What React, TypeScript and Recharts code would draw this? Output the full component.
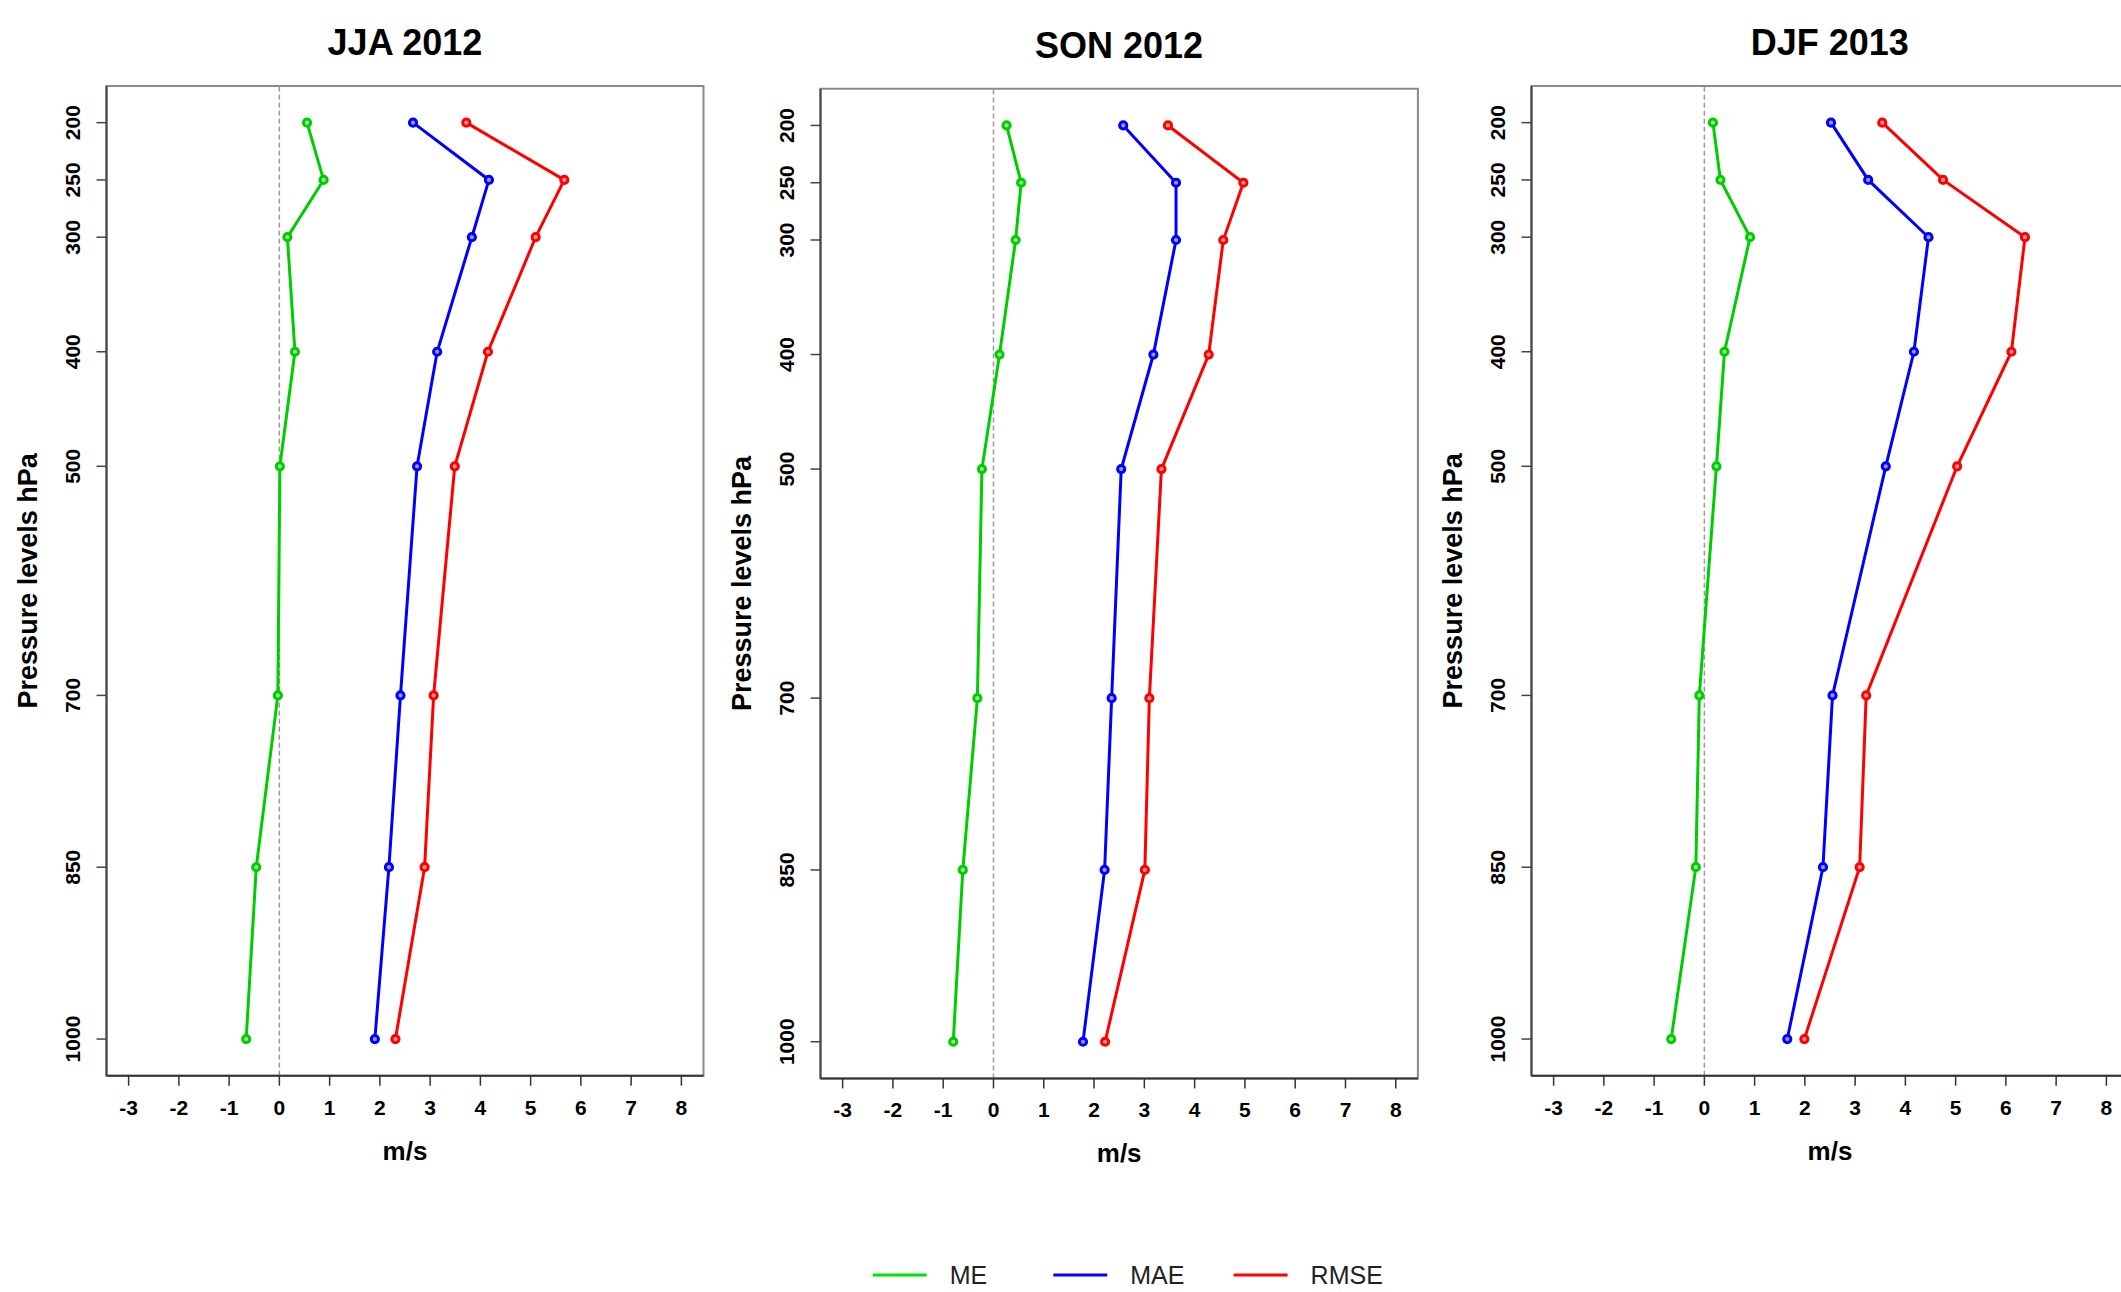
import React from 'react';
import { LineChart, Line, XAxis, YAxis, ReferenceLine, ReferenceArea, Label } from 'recharts';

// ---------- data ----------
const levels = [200, 250, 300, 400, 500, 700, 850, 1000];

const jjaME = [0.55, 0.88, 0.16, 0.31, 0.01, -0.03, -0.46, -0.66];
const jjaMAE = [2.66, 4.17, 3.83, 3.14, 2.74, 2.41, 2.18, 1.9];
const jjaRMSE = [3.72, 5.67, 5.1, 4.15, 3.49, 3.07, 2.89, 2.31];

const sonME = [0.26, 0.55, 0.44, 0.12, -0.23, -0.32, -0.61, -0.8];
const sonMAE = [2.58, 3.63, 3.63, 3.18, 2.54, 2.35, 2.21, 1.78];
const sonRMSE = [3.47, 4.97, 4.57, 4.28, 3.34, 3.1, 3.01, 2.22];

const djfME = [0.17, 0.32, 0.91, 0.4, 0.24, -0.1, -0.17, -0.66];
const djfMAE = [2.52, 3.26, 4.46, 4.17, 3.61, 2.55, 2.36, 1.65];
const djfRMSE = [3.54, 4.75, 6.38, 6.11, 5.03, 3.22, 3.09, 1.99];

const xTicks = [-3, -2, -1, 0, 1, 2, 3, 4, 5, 6, 7, 8];
const yTicks = levels;
const panelTitles = ['JJA 2012', 'SON 2012', 'DJF 2013'];
const seriesNames = ['ME', 'MAE', 'RMSE'];
const xAxisTitle = 'm/s';
const yAxisTitle = 'Pressure levels hPa';

// ---------- styles / layout ----------
const seriesColors = ['#00CD00', '#0000FF', '#FF0000'];
const dotFills = ['#9be89b', '#9a9aff', '#ff9a9a'];
const legendColors = ['#00E600', '#0000FF', '#FF0000'];
const xDomain: [number, number] = [-3.44, 8.44];
const yDomain: [number, number] = [168, 1032];
const FONT = '"Liberation Sans", Arial, Helvetica, sans-serif';
const W = 2121;
const H = 1292;
const YAXIS_W = 106.5;
const XAXIS_H = 100;
const RIGHT_PAD = 12;

const panelLayouts = [
  { plotLeft: 106.5, plotTop: 86, plotW: 597, plotH: 989.7, titleY: 55 },
  { plotLeft: 820.3, plotTop: 88.8, plotW: 597.4, plotH: 989.6, titleY: 57.5 },
  { plotLeft: 1531.3, plotTop: 86, plotW: 597, plotH: 989.7, titleY: 55 },
];

const legendLayout = { xs: [872.7, 1053.3, 1233.6], lineLen: 54, gap: 23, y: 1275 };

type Row = { p: number; ME: number; MAE: number; RMSE: number };
function buildRows(me: number[], mae: number[], rmse: number[]): Row[] {
  return levels.map((p, i) => ({ p, ME: me[i], MAE: mae[i], RMSE: rmse[i] }));
}

const panelRows = [
  buildRows(jjaME, jjaMAE, jjaRMSE),
  buildRows(sonME, sonMAE, sonRMSE),
  buildRows(djfME, djfMAE, djfRMSE),
];

const XTick = (props: any) => {
  const { x, y, payload } = props;
  return (
    <text x={x} y={y + 29} textAnchor="middle" fontFamily={FONT} fontWeight="bold" fontSize={21} fill="#000">
      {payload.value}
    </text>
  );
};

const YTick = (props: any) => {
  const { x, y, payload } = props;
  return (
    <text
      x={x}
      y={y}
      transform={`rotate(-90 ${x} ${y})`}
      textAnchor="middle"
      fontFamily={FONT}
      fontWeight="bold"
      fontSize={21}
      fill="#000"
    >
      {payload.value}
    </text>
  );
};

function Panel({ rows, layout }: { rows: Row[]; layout: (typeof panelLayouts)[number] }) {
  const { plotLeft, plotTop, plotW, plotH } = layout;
  const width = YAXIS_W + plotW + RIGHT_PAD;
  const bottom = H - plotTop - plotH - XAXIS_H;
  const xTitleX = YAXIS_W + plotW / 2;
  const xTitleY = plotTop + plotH + 84;
  const yTitleX = 37;
  const yTitleY = plotTop + plotH / 2;
  return (
    <div style={{ position: 'absolute', left: plotLeft - YAXIS_W, top: 0 }}>
      <LineChart
        layout="vertical"
        width={width}
        height={H}
        data={rows}
        margin={{ top: plotTop, right: RIGHT_PAD, bottom, left: 0 }}
      >
        <XAxis
          type="number"
          domain={xDomain}
          ticks={xTicks}
          allowDataOverflow
          interval={0}
          height={XAXIS_H}
          tickSize={10}
          tickMargin={0}
          tick={<XTick />}
          axisLine={{ stroke: '#333', strokeWidth: 2 }}
          tickLine={{ stroke: '#333', strokeWidth: 1.5 }}
        >
          <Label
            content={() => (
              <text x={xTitleX} y={xTitleY} textAnchor="middle" fontFamily={FONT} fontWeight="bold" fontSize={26} fill="#000">
                {xAxisTitle}
              </text>
            )}
          />
        </XAxis>
        <YAxis
          type="number"
          dataKey="p"
          domain={yDomain}
          ticks={yTicks}
          allowDataOverflow
          interval={0}
          width={YAXIS_W}
          tickSize={10}
          tickMargin={16}
          tick={<YTick />}
          axisLine={{ stroke: '#444', strokeWidth: 2 }}
          tickLine={{ stroke: '#444', strokeWidth: 1.5 }}
        >
          <Label
            content={() => (
              <text
                x={yTitleX}
                y={yTitleY}
                transform={`rotate(-90 ${yTitleX} ${yTitleY})`}
                textAnchor="middle"
                fontFamily={FONT}
                fontWeight="bold"
                fontSize={27}
                fill="#000"
              >
                {yAxisTitle}
              </text>
            )}
          />
        </YAxis>
        <ReferenceArea
          x1={xDomain[0]}
          x2={xDomain[1]}
          y1={yDomain[0]}
          y2={yDomain[1]}
          fill="none"
          fillOpacity={0}
          stroke="#8a8a8a"
          strokeWidth={2}
          ifOverflow="visible"
        />
        <ReferenceLine x={0} stroke="#9a9a9a" strokeWidth={1.5} strokeDasharray="5 3" />
        {seriesNames.map((name, i) => (
          <Line
            key={name}
            dataKey={name}
            name={name}
            stroke={seriesColors[i]}
            strokeWidth={3}
            dot={{ r: 3.6, stroke: seriesColors[i], strokeWidth: 3, fill: dotFills[i] }}
            activeDot={false}
            isAnimationActive={false}
          />
        ))}
      </LineChart>
    </div>
  );
}

export default function App() {
  return (
    <div
      style={{
        position: 'absolute',
        left: 0,
        top: 0,
        width: W,
        height: H,
        overflow: 'hidden',
        background: '#fff',
        fontFamily: FONT,
      }}
    >
      {panelRows.map((rows, i) => (
        <Panel key={panelTitles[i]} rows={rows} layout={panelLayouts[i]} />
      ))}
      <svg width={W} height={H} style={{ position: 'absolute', left: 0, top: 0, pointerEvents: 'none' }}>
        {panelTitles.map((t, i) => {
          const l = panelLayouts[i];
          return (
            <text
              key={t}
              x={l.plotLeft + l.plotW / 2}
              y={l.titleY}
              textAnchor="middle"
              fontFamily={FONT}
              fontWeight="bold"
              fontSize={36}
              fill="#000"
            >
              {t}
            </text>
          );
        })}
        {seriesNames.map((name, i) => {
          const x = legendLayout.xs[i];
          return (
            <g key={name}>
              <line
                x1={x}
                x2={x + legendLayout.lineLen}
                y1={legendLayout.y}
                y2={legendLayout.y}
                stroke={legendColors[i]}
                strokeWidth={3}
              />
              <text
                x={x + legendLayout.lineLen + legendLayout.gap}
                y={legendLayout.y + 9}
                fontFamily={FONT}
                fontSize={25}
                fill="#222"
              >
                {name}
              </text>
            </g>
          );
        })}
      </svg>
    </div>
  );
}
